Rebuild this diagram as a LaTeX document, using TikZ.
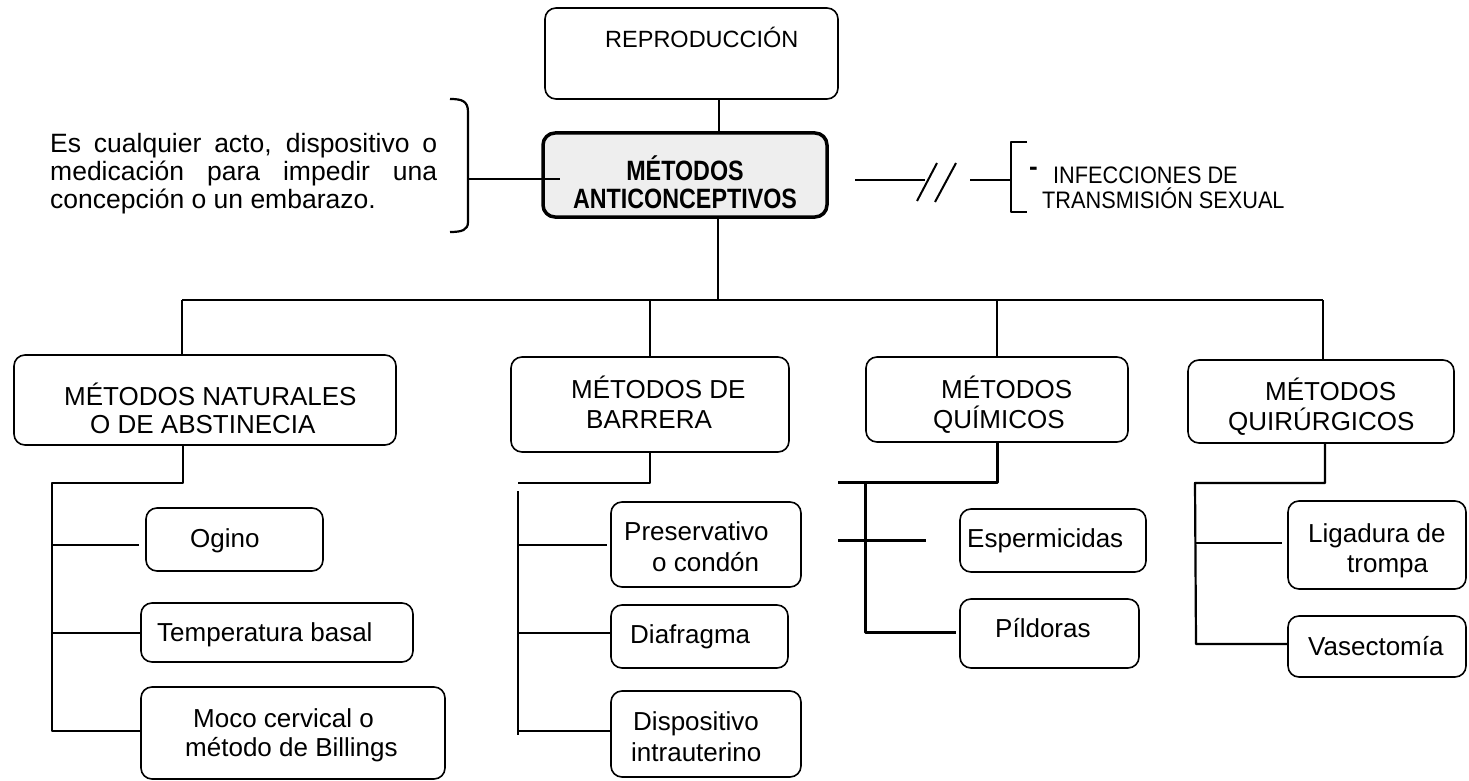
\documentclass[tikz,border=0pt]{standalone}
\usepackage{fontspec}
\setmainfont{Liberation Sans}
\usepackage{graphicx}
\begin{document}
\begin{tikzpicture}[x=1pt,y=-1pt,line join=round,
  bx/.style={draw, rounded corners=11pt, line width=1.6pt, inner sep=0pt},
  txt/.style={inner sep=0pt, anchor=base west, font=\fontsize{26}{30}\selectfont},
  ln/.style={line width=2.2pt},
  thk/.style={line width=3pt}]
\useasboundingbox (0,0) rectangle (1469,781);
\fill[white] (0,0) rectangle (1469,781);

% top boxes
\node[bx, minimum width=293pt, minimum height=91pt] (repro) at (691.5,53.5) {};
\node[txt, font=\fontsize{23.5}{26}\selectfont] (repro-t) at (605,48) {REPRODUCCIÓN};

\node[draw, rounded corners=12pt, line width=3.5pt, fill=gray!13, inner sep=0pt,
      minimum width=284pt, minimum height=84pt] (mac) at (685,175) {};
\node[inner sep=0pt, anchor=base, font=\fontsize{23.3}{26}\selectfont\bfseries] (mac-t1) at (685,180) {\scalebox{1}[1.2]{MÉTODOS}};
\node[inner sep=0pt, anchor=base, font=\fontsize{23.3}{26}\selectfont\bfseries] (mac-t2) at (685,208) {\scalebox{1}[1.2]{ANTICONCEPTIVOS}};

\coordinate (tx) at (719,0);
\draw[ln] (repro.south -| tx) -- (mac.north -| tx);

% definition on the left
\node[txt, font=\fontsize{26.5}{28}\selectfont] (def1) at (50,152) {\makebox[387pt][s]{Es cualquier acto, dispositivo o}};
\node[txt, font=\fontsize{26.5}{28}\selectfont] (def2) at (50,180) {\makebox[387pt][s]{medicación para impedir una}};
\node[txt, font=\fontsize{26.5}{28}\selectfont] (def3) at (50,208) {concepción o un embarazo.};
\draw[ln] (450,99) .. controls (462,99) and (468,101) .. (468,112) -- (468,222) .. controls (468,230) and (462,232) .. (450,232);
\coordinate (btip) at (468,179);
\draw[ln] (btip) -- (btip -| mac.west) -- ++(19,0);

% right side
\coordinate (r1) at (855,180);
\coordinate (r2) at (925,180);
\draw[ln] (r1) -- (r2);
\draw[line width=2pt] (917,201) -- (937,163);
\draw[line width=2pt] (935,202) -- (956,163);
\coordinate (r3) at (970,180);
\coordinate (r4) at (1011,180);
\draw[ln] (r3) -- (r4);
\draw[line width=2.7pt] (1027,142) -- (1011,142) -- (1011,212) -- (1027,212);
\node[txt, font=\fontsize{26}{30}\selectfont\bfseries] (dash) at (1029,175) {-};
\node[txt, font=\fontsize{21.7}{24}\selectfont] (its1) at (1053,183) {\scalebox{1}[1.1]{INFECCIONES DE}};
\node[txt, font=\fontsize{21.7}{24}\selectfont] (its2) at (1042,208) {\scalebox{1}[1.1]{TRANSMISIÓN SEXUAL}};

% second level
\node[bx, minimum width=382pt, minimum height=90pt] (nat) at (205,400) {};
\node[txt] (nat-t1) at (64,405) {MÉTODOS NATURALES};
\node[txt] (nat-t2) at (90,433) {O DE ABSTINECIA};
\node[bx, minimum width=278pt, minimum height=95pt] (bar) at (650,404.5) {};
\node[txt] (bar-t1) at (571,398) {MÉTODOS DE};
\node[txt] (bar-t2) at (586,428) {BARRERA};
\node[bx, minimum width=262pt, minimum height=85pt] (qui) at (997,399.5) {};
\node[txt] (qui-t1) at (941,398) {MÉTODOS};
\node[txt] (qui-t2) at (933,428) {QUÍMICOS};
\node[bx, minimum width=266pt, minimum height=83pt] (quir) at (1321,401.5) {};
\node[txt] (quir-t1) at (1265,400) {MÉTODOS};
\node[txt] (quir-t2) at (1228,430) {QUIRÚRGICOS};

\coordinate (trk) at (718,300);
\draw[ln] (mac.south -| trk) -- (trk);
\coordinate (bL) at (182,300);
\coordinate (bR) at (1323,300);
\draw[ln] (bL) -- (bR);
\draw[ln] (bL) -- (bL |- nat.north);
\draw[ln] (bar.north |- bL) -- (bar.north);
\draw[ln] (qui.north |- bL) -- (qui.north);
\draw[ln] (bR) -- (bR |- quir.north);

% third level boxes
\node[bx, minimum width=177pt, minimum height=63pt] (ogino) at (234.5,539.5) {};
\node[txt] (ogino-t) at (190,547) {Ogino};
\node[bx, minimum width=272pt, minimum height=59pt] (temp) at (277,632.5) {};
\node[txt] (temp-t) at (157,641) {Temperatura basal};
\node[bx, minimum width=304pt, minimum height=92pt] (moco) at (293,733) {};
\node[txt] (moco-t1) at (193,727) {Moco cervical o};
\node[txt] (moco-t2) at (185,756) {método de Billings};

\node[bx, minimum width=190pt, minimum height=85pt] (pres) at (706,544.5) {};
\node[txt] (pres-t1) at (624,540) {Preservativo};
\node[txt] (pres-t2) at (652,571) {o condón};
\node[bx, minimum width=177pt, minimum height=63pt] (diaf) at (699.5,636.5) {};
\node[txt] (diaf-t) at (630,643) {Diafragma};
\node[bx, minimum width=190pt, minimum height=86pt] (disp) at (706,734) {};
\node[txt] (disp-t1) at (633,730) {Dispositivo};
\node[txt] (disp-t2) at (631,761) {intrauterino};

\node[bx, minimum width=186pt, minimum height=63pt] (esp) at (1053,540.5) {};
\node[txt] (esp-t) at (967,547) {Espermicidas};
\node[bx, minimum width=179pt, minimum height=69pt] (pild) at (1049.5,633.5) {};
\node[txt] (pild-t) at (995,637) {Píldoras};

\node[bx, minimum width=178pt, minimum height=88pt] (liga) at (1377,545) {};
\node[txt] (liga-t1) at (1308,542) {Ligadura de};
\node[txt] (liga-t2) at (1347,572) {trompa};
\node[bx, minimum width=178pt, minimum height=61pt] (vase) at (1377,646.5) {};
\node[txt] (vase-t) at (1308,655) {Vasectomía};

% natural group
\coordinate (n0) at (183,483);
\coordinate (n1) at (52,483);
\coordinate (n2) at (52,545);
\coordinate (n3) at (52,633);
\coordinate (n4) at (52,731);
\draw[ln] (nat.south -| n0) -- (n0) -- (n1) -- (n4) -- (moco.west |- n4);
\draw[ln, shorten >=6pt] (n2) -- (ogino.west |- n2);
\draw[ln] (n3) -- (temp.west |- n3);

% barrier group
\coordinate (b0) at (650,483);
\coordinate (b1) at (518,483);
\coordinate (b2) at (518,491);
\coordinate (b3) at (518,545);
\coordinate (b4) at (518,633);
\coordinate (b5) at (518,731);
\coordinate (b6) at (518,735);
\draw[ln] (bar.south -| b0) -- (b0) -- (b1);
\draw[ln] (b2) -- (b6);
\draw[ln, shorten >=3pt] (b3) -- (pres.west |- b3);
\draw[ln] (b4) -- (diaf.west |- b4);
\draw[ln] (b5) -- (disp.west |- b5);

% chemical group
\coordinate (q0) at (997,482);
\coordinate (q1) at (838,482);
\coordinate (q2) at (865,482);
\coordinate (q3) at (865,632);
\coordinate (q4) at (838,540);
\draw[thk] (qui.south -| q0) -- (q0) -- (q1);
\draw[thk, shorten >=3pt] (q2) -- (q3) -- (pild.west |- q3);
\draw[thk, shorten >=33pt] (q4) -- (esp.west |- q4);

% surgical group
\coordinate (s0) at (1325,483);
\coordinate (s1) at (1195,483);
\coordinate (s2) at (1195,543);
\coordinate (s3) at (1196,644);
\draw[ln] (quir.south -| s0) -- (s0) -- (s1) -- (s3) -- (vase.west |- s3);
\draw[ln, shorten >=5pt] (s2) -- (liga.west |- s2);
\end{tikzpicture}
\end{document}
